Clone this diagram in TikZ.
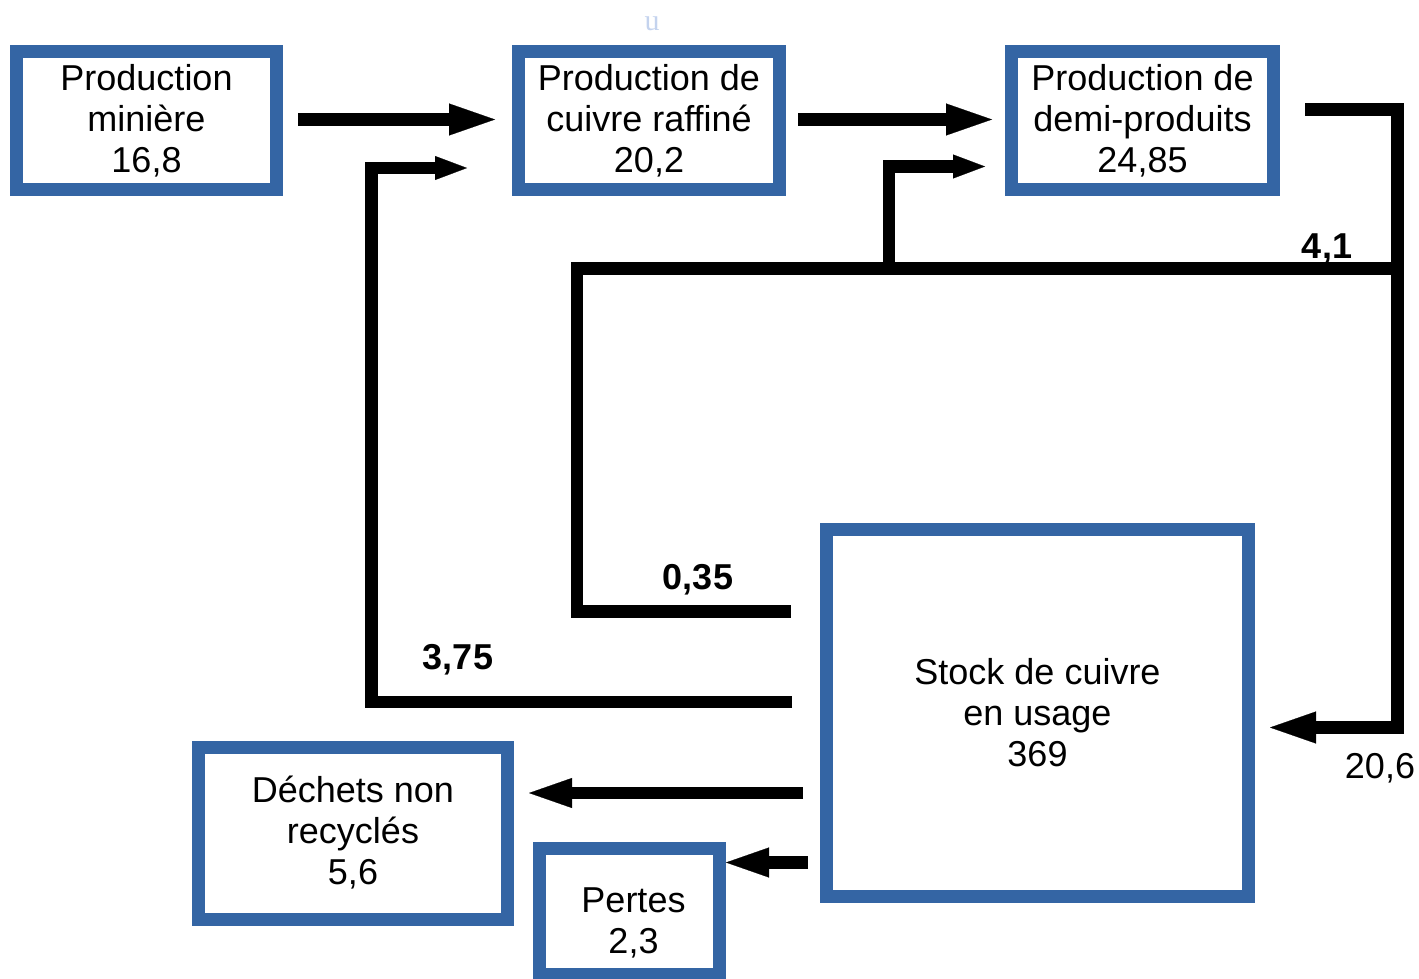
\documentclass[tikz,border=0pt]{standalone}
\usepackage{fontspec}
\newfontfamily\arialf{Liberation Sans}
\newfontfamily\serf{Liberation Serif}
\usetikzlibrary{arrows.meta,calc}
\definecolor{boxblue}{RGB}{52,101,164}
\definecolor{ublue}{RGB}{196,211,238}
\tikzset{
  box/.style={draw=boxblue, line width=6.5pt, fill=white, align=center, inner sep=0pt, outer sep=0pt,
    text=black, font=\arialf\fontsize{18pt}{20.5pt}\selectfont},
  flow/.style={line width=6.25pt, black},
  bigtip/.style={-{Triangle[length=23pt,width=16pt,line width=0.1pt]}},
  midtip/.style={-{Triangle[length=21.5pt,width=15pt,line width=0.1pt]}},
  smalltip/.style={-{Triangle[length=16pt,width=12pt,line width=0.1pt]}},
  lbl/.style={anchor=base, inner sep=0pt, text=black, font=\arialf\bfseries\fontsize{18pt}{20.5pt}\selectfont},
  lblr/.style={anchor=base, inner sep=0pt, text=black, font=\arialf\fontsize{18pt}{20.5pt}\selectfont}
}
\begin{document}
\begin{tikzpicture}[x=0.5pt,y=-0.5pt]
\useasboundingbox (0,0) rectangle (1419,979);
\clip (0,0) rectangle (1419,979);

\node[text=ublue, font=\serf\fontsize{15pt}{15pt}\selectfont, inner sep=0pt] (u) at (652,24) {u};

% boxes
\node[box, minimum width=130pt, minimum height=69pt] (mine) at (146.5,120.5) {Production\\minière\\16,8};
\node[box, minimum width=130.5pt, minimum height=69pt] (raff) at (649,120.5) {Production de\\cuivre raffiné\\20,2};
\node[box, minimum width=131pt, minimum height=69pt] (demi) at (1142.5,120.5) {Production de\\demi-produits\\24,85};
\node[box, minimum width=211pt, minimum height=183.5pt] (stock) at (1037.5,713) {Stock de cuivre\\en usage\\369};
\node[box, minimum width=154.5pt, minimum height=86pt] (dechets) at (353,833) {Déchets non\\recyclés\\5,6};
\node[box, minimum width=90pt, minimum height=63pt,
  label={[box, draw=none, fill=none, yshift=-5.5pt, xshift=2pt]center:Pertes\\2,3}] (pertes) at (629.5,911.5) {};

% straight arrows along the top
\draw[flow, bigtip] ($(mine.east)+(21.5,-1)$) -- ($(raff.west)+(-23.5,-1)$);
\draw[flow, bigtip] ($(raff.east)+(18.5,-1)$) -- ($(demi.west)+(-19.5,-1)$);

% demi-produits -> stock (20,6)
\coordinate (d1) at ($(demi.east)+(31.5,-11)$);
\coordinate (d2) at (1397.5,727.5);
\coordinate (d3) at ($(stock.east)+(21.5,14.5)$);
\draw[flow, bigtip] (d1) -| (d2) -- (d3);

% 4,1 / 0,35 recycle line
\coordinate (r1) at (1397.5,268.5);
\coordinate (r2) at (577,268.5);
\coordinate (r3) at (577,611.5);
\coordinate (r4) at (791,611.5);
\coordinate (rb) at (889,268.5);
\coordinate (rt) at ($(demi.west)+(-26.5,46)$);
\draw[flow] (r1) -- (r2) -- (r3) -- (r4);
\draw[flow, smalltip] (rb) |- (rt);

% 3,75 back to raffiné
\coordinate (s0) at (792,702);
\coordinate (s1) at (371.5,702);
\coordinate (st) at ($(raff.west)+(-51.5,47.5)$);
\draw[flow, smalltip] (s0) -- (s1) |- (st);

% stock -> dechets, pertes
\coordinate (f0) at (803,793);
\coordinate (f1) at (529,793);
\coordinate (g0) at (808,862.5);
\coordinate (g1) at (726,862.5);
\draw[flow, midtip] (f0) -- (f1);
\draw[flow, midtip] (g0) -- (g1);

% labels
\node[lbl] (l41) at (1327,258) {4,1};
\node[lbl] (l035) at (698,589) {0,35};
\node[lbl] (l375) at (458,669) {3,75};
\node[lblr] (l206) at (1380,778) {20,6};
\end{tikzpicture}
\end{document}
